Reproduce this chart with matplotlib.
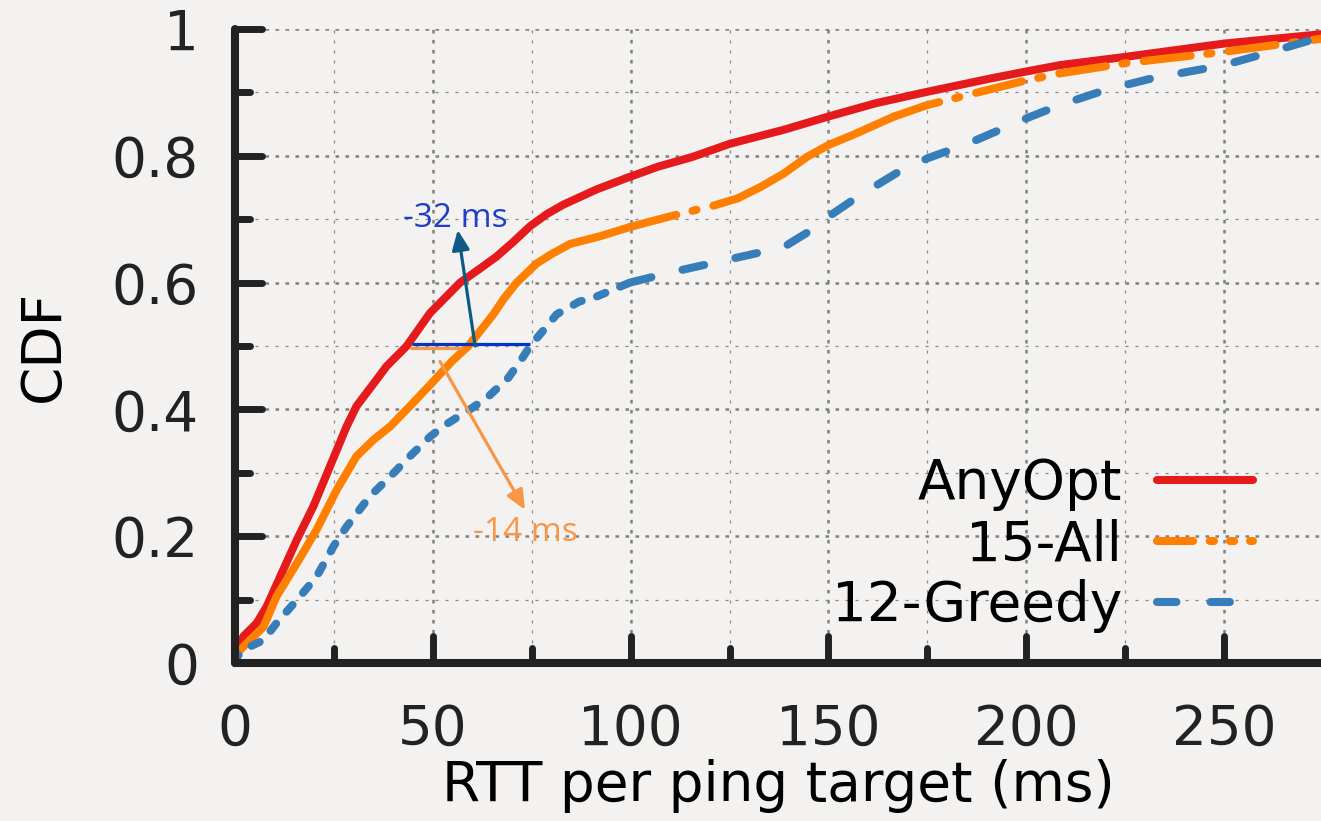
import matplotlib
matplotlib.use("Agg")
import matplotlib.pyplot as plt
from matplotlib.ticker import MultipleLocator, FixedLocator, FixedFormatter
from matplotlib.markers import MarkerStyle
from matplotlib.lines import Line2D

plt.rcParams['font.family'] = ['DejaVu Sans']
plt.rcParams['lines.scale_dashes'] = False

# ---------------- data ----------------
anyopt_x = [0, 2.1, 5.5, 8, 11.4, 15.6, 19.8, 24, 28.2, 30.7, 35.8, 38.3,
            43.4, 49.3, 56.9, 61.9, 66.1, 70.3, 74.6, 78.8, 83, 91.4, 99, 107, 115.5,
            125.1, 138.7, 150, 162, 175, 191, 200, 208.5, 225, 250, 275]
anyopt_y = [0, 0.042, 0.063, 0.089, 0.136, 0.194, 0.247, 0.31, 0.373, 0.405, 0.447, 0.468,
            0.5, 0.552, 0.6, 0.622, 0.641, 0.664, 0.689, 0.708, 0.723, 0.747, 0.765, 0.783, 0.798,
            0.819, 0.841, 0.862, 0.883, 0.901, 0.922, 0.933, 0.943, 0.956, 0.977, 0.992]

all15_x = [0, 0.4, 3.8, 7.2, 10.5, 15.6, 20.6, 25.7, 30.7, 35, 39.2, 44.2, 49.5,
           55, 59, 65.3, 68, 71.2, 76.2, 80, 84.7, 92.2, 100, 109.7, 121.3, 127.1, 132.9,
           138.7, 144.5, 150, 156.2, 166.6, 175, 185.2, 200, 208.5, 225, 250, 275]
all15_y = [0, 0.015, 0.036, 0.057, 0.105, 0.157, 0.21, 0.273, 0.326, 0.352, 0.373, 0.405, 0.44,
           0.477, 0.5, 0.55, 0.575, 0.6, 0.63, 0.645, 0.661, 0.673, 0.688, 0.704, 0.722, 0.733, 0.751,
           0.772, 0.798, 0.817, 0.833, 0.862, 0.88, 0.896, 0.919, 0.93, 0.946, 0.964, 0.985]

greedy_x = [0, 0.4, 3.8, 7.2, 10.5, 15.6, 20.6, 24.9, 28.2, 34.1, 39.2, 44.2, 49.3, 53, 59.4, 64,
            69.1, 72, 74.6, 78, 81.3, 87, 91.4, 99.8, 110.8, 125.9, 138.7, 145.7, 150, 157.3,
            167.8, 175, 185.2, 200, 208.5, 220.1, 231.7, 250, 260.8, 275]
greedy_y = [0, 0.01, 0.026, 0.036, 0.063, 0.099, 0.136, 0.184, 0.215, 0.263, 0.294, 0.326, 0.357, 0.375,
            0.4, 0.42, 0.45, 0.475, 0.5, 0.525, 0.55, 0.57, 0.578, 0.6, 0.617, 0.638, 0.656, 0.683, 0.704,
            0.735, 0.775, 0.796, 0.819, 0.859, 0.88, 0.904, 0.922, 0.943, 0.962, 0.988]

series_labels = ["AnyOpt", "15-All", "12-Greedy"]
x_ticks = [0, 50, 100, 150, 200, 250]
x_tick_labels = ["0", "50", "100", "150", "200", "250"]
y_ticks = [0, 0.2, 0.4, 0.6, 0.8, 1.0]
y_tick_labels = ["0", "0.2", "0.4", "0.6", "0.8", "1"]

# annotation values (medians)
median_level = 0.5
anyopt_median = 44.5
all15_median = 58.0
greedy_median = 74.5
label_32 = "-32 ms"
label_14 = "-14 ms"

# ---------------- style ----------------
BG = '#f3f2f0'
DARK = '#222222'
RED = '#e41a1c'
ORANGE = '#ff7f00'
BLUE = '#377eb8'
LW = 5.8
FS = 39.5
ORANGE_LEG = (0, (26, 12, 3, 11.5, 3, 11.5, 3, 11.5))
ORANGE_CURVE = (0, (34, 12, 3, 12.5))
BLUE_LEG = (0, (14, 24.5))


def seg(xs, ys, lo, hi):
    pts = [(x, y) for x, y in zip(xs, ys) if lo <= x <= hi]
    return [p[0] for p in pts], [p[1] for p in pts]


fig = plt.figure(figsize=(13.21, 8.21), dpi=100, facecolor=BG)
ax = fig.add_axes([235/1321, 158/821, 1 - 235/1321, 634/821])
ax.set_facecolor(BG)

ax.plot(anyopt_x, anyopt_y, color=RED, lw=LW, solid_capstyle='round',
        solid_joinstyle='round', zorder=3)

# 15-All: dense (steep) parts look solid, sparse parts show the dash-dot pattern
for lo, hi, style in [(0, 100, '-'), (100, 127.1, ORANGE_CURVE),
                      (127.1, 166.6, '-'), (166.6, 300, ORANGE_CURVE)]:
    sx, sy = seg(all15_x, all15_y, lo, hi)
    ax.plot(sx, sy, color=ORANGE, lw=LW, linestyle=style, solid_capstyle='round',
            dash_capstyle='round', solid_joinstyle='round', dash_joinstyle='round', zorder=3)

for lo, hi, style in [(0, 99.8, (0, (6.5, 11.5))), (99.8, 300, (0, (16, 23)))]:
    sx, sy = seg(greedy_x, greedy_y, lo, hi)
    ax.plot(sx, sy, color=BLUE, lw=LW, linestyle=style, dash_capstyle='round',
            dash_joinstyle='round', solid_capstyle='round', zorder=3)

ax.set_xlim(0, 274.5)
ax.set_ylim(0, 1)
ax.xaxis.set_major_locator(FixedLocator(x_ticks))
ax.xaxis.set_major_formatter(FixedFormatter(x_tick_labels))
ax.xaxis.set_minor_locator(MultipleLocator(25))
ax.yaxis.set_major_locator(FixedLocator(y_ticks))
ax.yaxis.set_major_formatter(FixedFormatter(y_tick_labels))
ax.yaxis.set_minor_locator(MultipleLocator(0.1))

ax.tick_params(which='both', direction='in', color=DARK, labelcolor=DARK, labelsize=FS)
ax.tick_params(which='major', length=19.5, width=5)
ax.tick_params(which='minor', length=11, width=5)
ax.tick_params(axis='x', which='major', pad=29)
ax.tick_params(axis='y', which='major', pad=26)
ax.tick_params(top=False, right=False)

ax.grid(which='major', color='#808080', lw=1.8, linestyle=(0, (2.6, 4.6)))
ax.grid(which='minor', color='#8a8a8a', lw=0.9, linestyle=(0, (2.2, 5.0)))
ax.set_axisbelow(True)

for s in ('top', 'right'):
    ax.spines[s].set_visible(False)
for s in ('left', 'bottom'):
    ax.spines[s].set_linewidth(5.8)
    ax.spines[s].set_color(DARK)
    ax.spines[s].set_capstyle('round')
    ax.spines[s].set_zorder(4)

ax.set_xlabel("RTT per ping target (ms)", fontsize=FS, labelpad=1, color='black')
ax.set_ylabel("CDF", fontsize=FS, labelpad=29, color='black')

handles = [
    Line2D([], [], color=RED, lw=LW, solid_capstyle='round'),
    Line2D([], [], color=ORANGE, lw=LW, linestyle=ORANGE_LEG, dash_capstyle='round'),
    Line2D([], [], color=BLUE, lw=LW, linestyle=BLUE_LEG, dash_capstyle='round'),
]
leg = ax.legend(handles, series_labels, loc='upper right',
                bbox_to_anchor=(1253/1321, 1 - 457/821),
                bbox_transform=fig.transFigure, frameon=False, markerfirst=False,
                fontsize=FS, handlelength=1.75, handletextpad=0.64, labelspacing=0.13,
                borderpad=0, borderaxespad=0)
for t in leg.get_texts():
    t.set_ha('right')

# annotations
ax.plot([44.2, all15_median - 0.4], [0.4965, 0.4965], color='#f79646', lw=2.3,
        solid_capstyle='butt', zorder=5)
ax.plot([44.7, greedy_median], [0.503, 0.503], color='#0535c4', lw=2.3,
        solid_capstyle='butt', zorder=5)
ax.annotate('', xy=(56.3, 0.683), xytext=(60.7, 0.5),
            arrowprops=dict(arrowstyle='-|>,head_length=0.5,head_width=0.22', color='#0d5a82', lw=2.3,
                            mutation_scale=24, shrinkA=0, shrinkB=0), zorder=6)
ax.annotate('', xy=(73.3, 0.2415), xytext=(51.8, 0.4757),
            arrowprops=dict(arrowstyle='-|>,head_length=0.5,head_width=0.22', color='#f79646', lw=2.3,
                            mutation_scale=24, shrinkA=0, shrinkB=0), zorder=6)
ax.text(55.6, 0.688, label_32, color='#1d3fc6', fontsize=24, family=['Open Sans', 'DejaVu Sans'],
        ha='center', va='baseline', zorder=6)
ax.text(73.3, 0.1926, label_14, color='#f79646', fontsize=24, family=['Open Sans', 'DejaVu Sans'],
        ha='center', va='baseline', zorder=6)

# round tick caps
fig.canvas.draw()
for axis in (ax.xaxis, ax.yaxis):
    for ticks in (axis.get_major_ticks(), axis.get_minor_ticks()):
        for t in ticks:
            for ln in (t.tick1line, t.tick2line):
                try:
                    ln.set_marker(MarkerStyle(ln.get_marker(), capstyle='round'))
                except Exception:
                    pass
                ln.set_zorder(4)

fig.savefig("out.png", dpi=100, facecolor=BG)
